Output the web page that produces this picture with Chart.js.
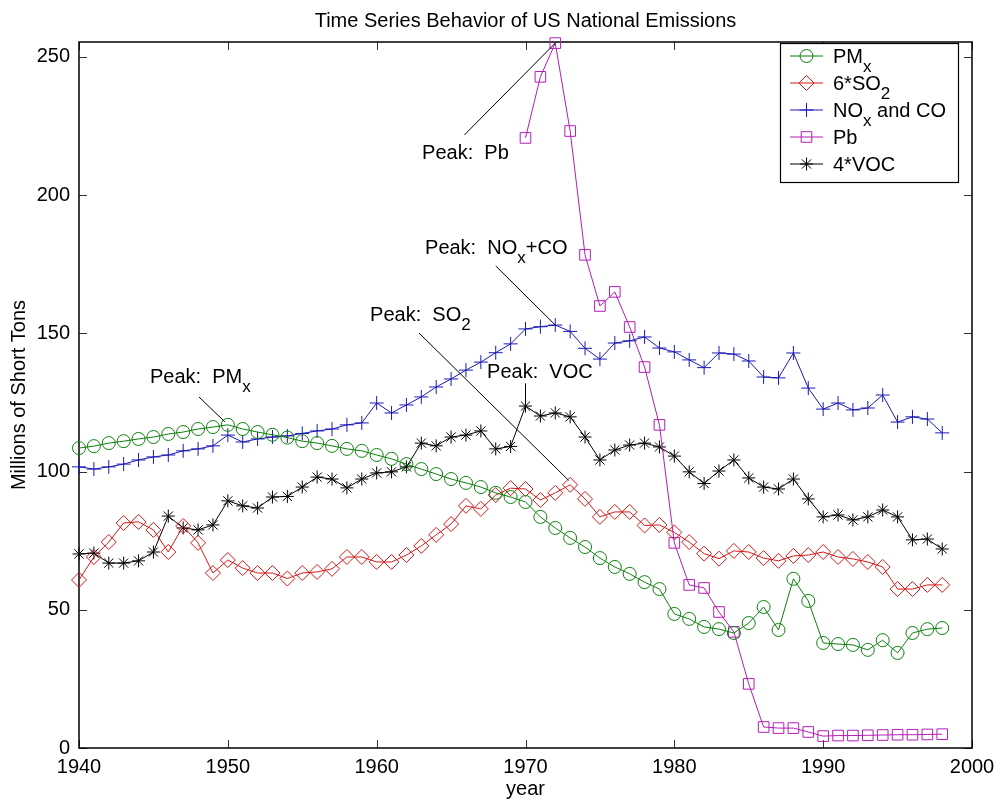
<!DOCTYPE html>
<html>
<head>
<meta charset="utf-8">
<script src="https://cdn.jsdelivr.net/npm/chart.js@4.4.1/dist/chart.umd.min.js"></script>
<style>
  html, body { margin: 0; padding: 0; background: #fff; }
  canvas { display: block; }
</style>
</head>
<body>
<canvas id="emissions" width="997" height="801"></canvas>
<script>
// years on the x axis
const years = [1940, 1941, 1942, 1943, 1944, 1945, 1946, 1947, 1948, 1949,
               1950, 1951, 1952, 1953, 1954, 1955, 1956, 1957, 1958, 1959,
               1960, 1961, 1962, 1963, 1964, 1965, 1966, 1967, 1968, 1969,
               1970, 1971, 1972, 1973, 1974, 1975, 1976, 1977, 1978, 1979,
               1980, 1981, 1982, 1983, 1984, 1985, 1986, 1987, 1988, 1989,
               1990, 1991, 1992, 1993, 1994, 1995, 1996, 1997, 1998];

const pmx = [108.5, 109.2, 110.3, 111.0, 111.8, 112.5, 113.6, 114.3, 115.4, 116.1,
             116.9, 115.4, 114.3, 113.3, 112.3, 111.0, 110.3, 109.3, 108.2, 107.5,
             106.0, 104.6, 102.7, 100.9, 99.1, 97.3, 95.9, 94.4, 92.3, 90.8,
             89.0, 83.6, 79.6, 76.0, 72.7, 68.7, 65.5, 63.0, 60.0, 57.5,
             48.5, 46.7, 43.8, 43.0, 41.6, 45.2, 51.0, 42.7, 61.2, 53.2,
             38.0, 37.6, 37.3, 35.5, 39.0, 34.4, 41.6, 43.0, 43.4];

const so2x6 = [60.8, 69.1, 74.5, 81.4, 81.8, 78.9, 70.9, 80.3, 74.2, 63.3,
               68.0, 65.1, 63.3, 63.3, 61.3, 63.3, 63.7, 64.8, 69.1, 69.1,
               67.3, 67.3, 69.8, 73.1, 77.1, 81.0, 87.6, 86.5, 91.5, 94.0,
               93.7, 89.7, 92.3, 95.2, 90.1, 83.6, 85.4, 85.4, 80.5, 80.7,
               78.0, 74.5, 70.3, 68.5, 71.3, 70.9, 68.7, 67.7, 69.5, 69.8,
               70.9, 69.1, 68.4, 67.3, 65.5, 57.5, 57.5, 59.0, 59.0];

const noxCo = [101.7, 100.9, 101.7, 102.7, 104.2, 105.3, 106.0, 107.5, 108.2, 109.3,
               113.2, 110.7, 111.8, 112.5, 112.9, 113.8, 114.7, 115.4, 116.9, 117.6,
               124.8, 121.2, 124.1, 127.0, 130.6, 133.5, 136.7, 139.6, 143.0, 146.2,
               151.6, 152.4, 153.0, 150.7, 144.6, 140.7, 146.5, 147.3, 148.7, 144.7,
               143.3, 140.4, 137.6, 142.9, 142.5, 140.0, 134.2, 133.9, 142.9, 130.2,
               122.6, 124.8, 122.3, 123.0, 127.7, 117.9, 119.8, 119.0, 114.0];

const vocx4 = [70.2, 70.5, 66.9, 66.9, 67.7, 70.9, 83.9, 79.6, 78.9, 80.7,
               89.4, 87.6, 86.8, 90.8, 91.0, 94.4, 98.0, 97.3, 94.1, 97.3,
               99.5, 99.9, 101.7, 110.3, 109.3, 112.5, 113.2, 114.7, 108.2, 109.1,
               123.7, 120.1, 121.2, 119.8, 112.5, 104.2, 107.8, 109.6, 110.3, 108.9,
               105.6, 99.9, 95.7, 100.2, 104.2, 97.7, 94.4, 93.7, 97.3, 90.1,
               83.6, 84.3, 82.5, 83.6, 86.1, 83.6, 75.3, 75.6, 72.0];

// lead is only reported from 1970 on
const pbYears = [1970, 1971, 1972, 1973, 1974, 1975, 1976, 1977, 1978, 1979,
                 1980, 1981, 1982, 1983, 1984, 1985, 1986, 1987, 1988, 1989,
                 1990, 1991, 1992, 1993, 1994, 1995, 1996, 1997, 1998];
const pb = [220.7, 242.8, 255.0, 223.2, 178.4, 159.9, 165.0, 152.3, 137.8, 116.9,
            74.2, 59.0, 57.9, 49.2, 42.0, 23.2, 7.6, 7.2, 7.2, 5.8,
            4.3, 4.5, 4.5, 4.6, 4.7, 4.8, 4.8, 4.9, 5.0];

// peak labels: text anchor (left, baseline) and pointer line, in data units
const peakLabels = [
    { text: "Peak:  Pb",     at: [1963.05, 213.1], from: [1965.9, 221.8], to: [1972.0, 255.0] },
    { text: "Peak:  NO_x+CO", at: [1963.25, 178.7], from: [1968.0, 174.4], to: [1972.0, 153.0] },
    { text: "Peak:  SO_2",    at: [1959.56, 154.5], from: [1962.85, 150.1], to: [1972.9, 96.8] },
    { text: "Peak:  PM_x",    at: [1944.77, 132.1], from: [1948.06, 127.0], to: [1949.8, 118.0] },
    { text: "Peak:  VOC",     at: [1967.42, 133.9], from: [1970.0, 131.9], to: [1970.0, 123.7] }
];

const FONT = '"Liberation Sans", Arial, Helvetica, sans-serif';

const toPoints = (xs, ys) => xs.map((x, i) => ({ x: x, y: ys[i] }));

// text with "_c" subscripts, like matlab's tex labels
function drawRich(ctx, str, x, y) {
    const parts = [];
    let buf = "";
    for (let i = 0; i < str.length; i++) {
        if (str[i] === "_" && i + 1 < str.length) {
            if (buf) parts.push({ t: buf, sub: false });
            buf = "";
            parts.push({ t: str[i + 1], sub: true });
            i++;
        } else {
            buf += str[i];
        }
    }
    if (buf) parts.push({ t: buf, sub: false });

    ctx.textAlign = "left";
    ctx.textBaseline = "alphabetic";
    let cx = x;
    parts.forEach(p => {
        ctx.font = (p.sub ? "17px " : "20px ") + FONT;
        ctx.fillText(p.t, cx, p.sub ? y + 9 : y);
        cx += ctx.measureText(p.t).width;
    });
}

// box around the axes with inward ticks on all four sides
const frame = {
    id: "frame",
    beforeDatasetsDraw(chart) {
        const { ctx, chartArea: a, scales } = chart;
        const len = 8;
        ctx.save();
        ctx.strokeStyle = "#333";
        ctx.lineWidth = 1;
        ctx.beginPath();
        scales.x.ticks.forEach(t => {
            const px = Math.round(scales.x.getPixelForValue(t.value)) + 0.5;
            ctx.moveTo(px, a.bottom); ctx.lineTo(px, a.bottom - len);
            ctx.moveTo(px, a.top); ctx.lineTo(px, a.top + len);
        });
        scales.y.ticks.forEach(t => {
            const py = Math.round(scales.y.getPixelForValue(t.value)) + 0.5;
            ctx.moveTo(a.left, py); ctx.lineTo(a.left + len, py);
            ctx.moveTo(a.right, py); ctx.lineTo(a.right - len, py);
        });
        ctx.stroke();
        ctx.strokeStyle = "#000";
        ctx.lineWidth = 1.5;
        ctx.strokeRect(a.left, a.top, a.right - a.left, a.bottom - a.top);
        ctx.restore();
    }
};

const peaks = {
    id: "peaks",
    afterDatasetsDraw(chart) {
        const { ctx, scales } = chart;
        const px = v => scales.x.getPixelForValue(v);
        const py = v => scales.y.getPixelForValue(v);
        ctx.save();
        ctx.strokeStyle = "#000";
        ctx.fillStyle = "#000";
        ctx.lineWidth = 1;
        peakLabels.forEach(p => {
            ctx.beginPath();
            ctx.moveTo(px(p.from[0]), py(p.from[1]));
            ctx.lineTo(px(p.to[0]), py(p.to[1]));
            ctx.stroke();
            drawRich(ctx, p.text, px(p.at[0]), py(p.at[1]));
        });
        ctx.restore();
    }
};

const legendBox = {
    id: "legendBox",
    afterDatasetsDraw(chart) {
        const { ctx, chartArea: a } = chart;
        const w = 178, h = 139;
        const left = a.right - 14 - w, top = a.top + 1;
        ctx.save();
        ctx.fillStyle = "#fff";
        ctx.fillRect(left, top, w, h);
        ctx.strokeStyle = "#000";
        ctx.lineWidth = 1.2;
        ctx.strokeRect(left + 0.5, top + 0.5, w, h);
        chart.data.datasets.forEach((ds, i) => {
            const y = top + 13 + i * 27;
            ctx.strokeStyle = ds.borderColor;
            ctx.lineWidth = 1;
            ctx.beginPath();
            ctx.moveTo(left + 10, y);
            ctx.lineTo(left + 43, y);
            ctx.stroke();
            ctx.fillStyle = "rgba(0,0,0,0)";
            Chart.helpers.drawPoint(ctx, {
                pointStyle: ds.pointStyle, radius: ds.pointRadius,
                borderWidth: 1, rotation: 0
            }, left + 26.5, y);
            ctx.fillStyle = "#000";
            drawRich(ctx, ds.label, left + 53, y + 7);
        });
        ctx.restore();
    }
};

function series(label, points, color, style, radius) {
    return {
        label: label,
        data: points,
        borderColor: color,
        borderWidth: 1,
        pointStyle: style,
        pointRadius: radius,
        pointBorderColor: color,
        pointBackgroundColor: "rgba(0,0,0,0)",
        pointBorderWidth: 1,
        tension: 0,
        fill: false,
        clip: false
    };
}

const tickFont = { family: FONT, size: 20, weight: "normal" };

new Chart(document.getElementById("emissions").getContext("2d"), {
    type: "line",
    data: {
        datasets: [
            series("PM_x", toPoints(years, pmx), "#0c800c", "circle", 6.5),
            series("6*SO_2", toPoints(years, so2x6), "#d41818", "rectRot", 7.5),
            series("NO_x and CO", toPoints(years, noxCo), "#1a1ab4", "cross", 7),
            series("Pb", toPoints(pbYears, pb), "#b41eb4", "rect", 7.5),
            series("4*VOC", toPoints(years, vocx4), "#000000", "star", 6.5)
        ]
    },
    options: {
        responsive: false,
        animation: false,
        devicePixelRatio: 1,
        layout: { padding: { left: 0, right: 25, top: 0, bottom: 0 } },
        plugins: {
            legend: { display: false },
            tooltip: { enabled: false },
            title: {
                display: true,
                text: "Time Series Behavior of US National Emissions",
                fullSize: false,
                color: "#000",
                font: { family: FONT, size: 20, weight: "normal" },
                padding: { top: 9, bottom: 9 }
            }
        },
        scales: {
            x: {
                type: "linear",
                min: 1940,
                max: 2000,
                grid: { display: false, drawTicks: false },
                border: { display: false },
                ticks: {
                    stepSize: 10,
                    includeBounds: false,
                    maxRotation: 0,
                    padding: 7,
                    color: "#000",
                    font: tickFont,
                    callback: v => String(v)
                },
                title: {
                    display: true,
                    text: "year",
                    color: "#000",
                    font: tickFont,
                    padding: { top: 0, bottom: 0 }
                },
                afterFit: s => {
                    s.height = 53;
                    // the fixed right margin is enough for the "2000" label
                    s.paddingLeft = 0;
                    s.paddingRight = 0;
                }
            },
            y: {
                type: "linear",
                min: 0,
                max: 255.4,
                grid: { display: false, drawTicks: false },
                border: { display: false },
                ticks: {
                    stepSize: 50,
                    includeBounds: false,
                    padding: 9,
                    color: "#000",
                    font: tickFont
                },
                title: {
                    display: true,
                    text: "Millions of Short Tons",
                    color: "#000",
                    font: tickFont,
                    padding: { top: 7, bottom: 0 }
                },
                afterFit: s => { s.width = 79; }
            }
        }
    },
    plugins: [frame, peaks, legendBox]
});
</script>
</body>
</html>
